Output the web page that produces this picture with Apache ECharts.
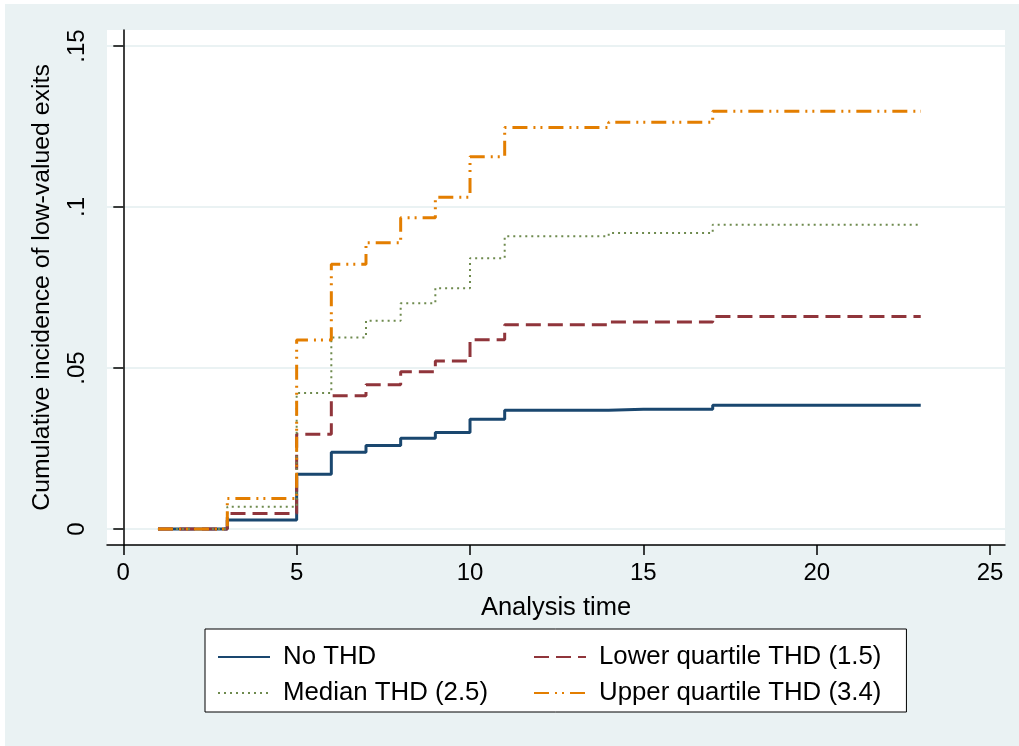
<!DOCTYPE html>
<html>
<head>
<meta charset="utf-8">
<script src="https://cdn.jsdelivr.net/npm/echarts@6/dist/echarts.min.js"></script>
<style>
  html, body { margin: 0; padding: 0; background: #ffffff; }
  #chart { width: 1019px; height: 746px; }
</style>
</head>
<body>
<div id="chart"></div>
<script>
// analysis time points
const times = [1, 2, 3, 4, 5, 6, 7, 8, 9, 10, 11, 12, 13, 14, 15, 16, 17, 18, 19, 20, 21, 22, 23]

// cumulative incidence
const noThd = [0, 0, 0.0028, 0.0028, 0.0170, 0.0238, 0.0259, 0.0282, 0.0300, 0.0341, 0.0369, 0.0369, 0.0369,
  0.0372, 0.0372, 0.0372, 0.0384, 0.0384, 0.0384, 0.0384, 0.0384, 0.0384, 0.0384]
const lowerQ = [0, 0, 0.0048, 0.0048, 0.0294, 0.0414, 0.0448, 0.0488, 0.0522, 0.0588, 0.0634, 0.0634, 0.0634,
  0.0643, 0.0643, 0.0643, 0.0660, 0.0660, 0.0660, 0.0660, 0.0660, 0.0660, 0.0660]
const medianQ = [0, 0, 0.0069, 0.0069, 0.0422, 0.0595, 0.0647, 0.0701, 0.0748, 0.0841, 0.0909, 0.0909, 0.0909,
  0.0919, 0.0919, 0.0919, 0.0945, 0.0945, 0.0945, 0.0945, 0.0945, 0.0945, 0.0945]
const upperQ = [0, 0, 0.0095, 0.0095, 0.0587, 0.0822, 0.0889, 0.0967, 0.1030, 0.1156, 0.1247, 0.1247, 0.1247,
  0.1263, 0.1263, 0.1263, 0.1297, 0.1297, 0.1297, 0.1297, 0.1297, 0.1297, 0.1297]

const seriesNames = ['No THD', 'Lower quartile THD (1.5)', 'Median THD (2.5)', 'Upper quartile THD (3.4)']

// axis ticks
const xTickValues = [0, 5, 10, 15, 20, 25]
const yTickValues = [0, 0.05, 0.1, 0.15]
const yTickLabels = ['0', '.05', '.1', '.15']

const FONT = 'Liberation Sans, Arial, sans-serif'
const BG = '#EAF2F3'

const pairs = (ys) => times.map((t, i) => [t, ys[i]])

const makeSeries = (name, ys, color, width, dash) => ({
  name: name,
  type: 'line',
  step: 'end',
  symbol: 'none',
  data: pairs(ys),
  lineStyle: { color: color, width: width, type: dash, cap: 'butt' },
  itemStyle: { color: color }
})

const chart = echarts.init(document.getElementById('chart'))

const option = {
  backgroundColor: '#ffffff',
  animation: false,
  graphic: [
    { type: 'rect', left: 5, top: 4, shape: { width: 1014, height: 742 }, style: { fill: BG }, z: -10 }
  ],
  grid: {
    left: 107, right: 14, top: 30, bottom: 201,
    show: true, backgroundColor: '#ffffff', borderWidth: 0
  },
  xAxis: {
    type: 'value',
    min: -0.47,
    max: 25.43,
    name: 'Analysis time',
    nameLocation: 'middle',
    nameGap: 50,
    nameTextStyle: { fontFamily: FONT, fontSize: 25.5, color: '#000' },
    axisLine: { show: true, onZero: false, lineStyle: { color: '#000', width: 1.5 } },
    axisTick: { show: true, length: 10, customValues: xTickValues, lineStyle: { color: '#000', width: 1.5 } },
    axisLabel: { customValues: xTickValues, margin: 16, fontFamily: FONT, fontSize: 24, color: '#000' },
    splitLine: { show: false }
  },
  yAxis: {
    type: 'value',
    min: -0.00497,
    max: 0.15497,
    name: 'Cumulative incidence of low-valued exits',
    nameLocation: 'middle',
    nameGap: 52,
    nameTextStyle: { fontFamily: FONT, fontSize: 24.8, color: '#000' },
    axisLine: { show: true, lineStyle: { color: '#000', width: 1.5 } },
    axisTick: { show: true, length: 10, customValues: yTickValues, lineStyle: { color: '#000', width: 1.5 } },
    axisLabel: {
      customValues: yTickValues,
      rotate: 90,
      margin: 18,
      fontFamily: FONT,
      fontSize: 24,
      color: '#000',
      formatter: (v) => {
        const i = yTickValues.findIndex(t => Math.abs(t - v) < 1e-9)
        return i >= 0 ? yTickLabels[i] : ''
      }
    },
    splitLine: { show: true, lineStyle: { color: BG, width: 2 } }
  },
  legend: {
    data: seriesNames,
    left: 205,
    top: 629,
    width: 720,
    orient: 'horizontal',
    itemWidth: 52,
    itemHeight: 14,
    itemGap: 10,
    padding: [15, 25, 6, 12],
    backgroundColor: '#ffffff',
    borderColor: '#000',
    borderWidth: 1,
    borderRadius: 0,
    itemStyle: { opacity: 0 },
    textStyle: { fontFamily: FONT, fontSize: 25.8, color: '#000', width: 240, lineHeight: 24, padding: [0, 0, 0, 8] }
  },
  series: [
    makeSeries(seriesNames[0], noThd, '#1A476F', 3, 'solid'),
    makeSeries(seriesNames[1], lowerQ, '#90353B', 3, [15, 7]),
    makeSeries(seriesNames[2], medianQ, '#6E8A4E', 2, [2, 4]),
    makeSeries(seriesNames[3], upperQ, '#E37E00', 3, [15, 6, 2, 5, 2, 6])
  ]
}

option && chart.setOption(option)
</script>
</body>
</html>
